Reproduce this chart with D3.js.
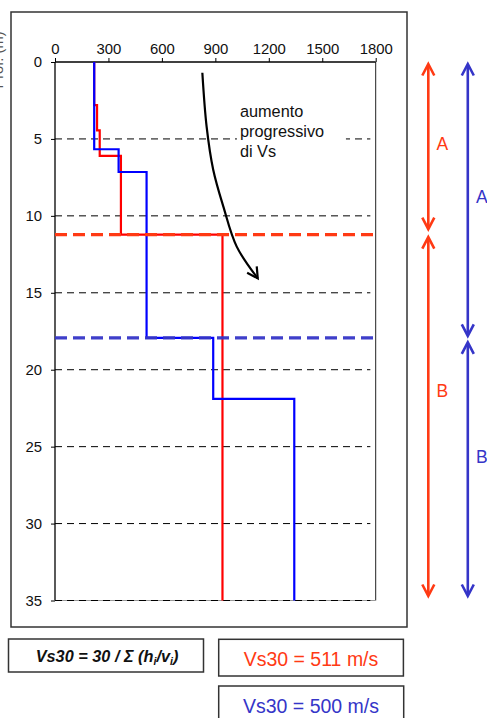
<!DOCTYPE html>
<html>
<head>
<meta charset="utf-8">
<script src="https://cdn.jsdelivr.net/npm/d3@7/dist/d3.min.js"></script>
<style>
  html, body { margin: 0; padding: 0; background: #fff; }
  svg { display: block; font-family: "Liberation Sans", Arial, sans-serif; }
</style>
</head>
<body>
<svg id="chart" width="487" height="718"></svg>
<script>
// Shear-wave velocity profiles (Vs, m/s) against depth (m)
const xTicks = [0, 300, 600, 900, 1200, 1500, 1800];
const yTicks = [0, 5, 10, 15, 20, 25, 30, 35];
const gridDepths = [5, 10, 15, 20, 25, 30, 35];

// Profile 1 (red): layer tops and velocities
const redTops = [0, 2.8, 4.45, 6.1, 11.22];
const redVs   = [220, 236, 251, 370, 940];
// Profile 2 (blue): layer tops and velocities
const blueTops = [0, 5.67, 7.15, 17.93, 21.9];
const blueVs   = [220, 357, 514, 888, 1343];
const profileBottom = 35;

// Interface between zone A and zone B for each profile
const redBoundary = 11.22;
const blueBoundary = 17.93;

// Zone labels: [label, depth]
const redZoneLabels = [["A", 5.3], ["B", 21.4]];
const blueZoneLabels = [["A", 8.8], ["B", 25.7]];

// Annotation arrow path (Vs, depth) and its caption
const trendArrow = [[827, 0.7], [851, 4.2], [888, 7.0], [945, 9.4], [1020, 12.0], [1138, 14.06]];
const trendText = ["aumento", "progressivo", "di Vs"];
const trendTextPos = [1038, 3.57];

const redLabel = "Vs30 = 511 m/s";
const blueLabel = "Vs30 = 500 m/s";

const RED = "#ff0000", BLUE = "#0000ff";
const RED2 = "#ff3a14", BLUE2 = "#3535c8";

const svg = d3.select("#chart");

const x = d3.scaleLinear().domain([0, 1800]).range([55, 375.7]);
const y = d3.scaleLinear().domain([0, 35]).range([62, 600.5]);

// outer frame
svg.append("rect").attr("x", 11).attr("y", 12).attr("width", 396).attr("height", 615)
  .attr("fill", "none").attr("stroke", "#333").attr("stroke-width", 1.5);

// y-axis title, running off the left edge of the page
svg.append("text").attr("transform", "translate(2.5,60) rotate(-90)")
  .attr("text-anchor", "middle").attr("font-size", 14.7).attr("fill", "#555")
  .text("Prof. (m)");

// plot area borders
svg.append("line").attr("x1", x(1800)).attr("x2", x(1800)).attr("y1", y(0)).attr("y2", y(35))
  .attr("stroke", "#222").attr("stroke-width", 1);
svg.append("line").attr("x1", x(0)).attr("x2", x(1800)).attr("y1", y(35)).attr("y2", y(35))
  .attr("stroke", "#999").attr("stroke-width", 1);

// grid
svg.append("g").selectAll("line").data(gridDepths).join("line")
  .attr("x1", x(0)).attr("x2", x(1770)).attr("y1", d => y(d)).attr("y2", d => y(d))
  .attr("stroke", "#000").attr("stroke-width", 1).attr("stroke-dasharray", "7,5");

// axes
const xAxis = d3.axisTop(x).tickValues(xTicks).tickSize(4).tickPadding(4).tickFormat(d3.format("d"));
const gx = svg.append("g").attr("transform", `translate(0,${y(0)})`).call(xAxis);
const yAxis = d3.axisLeft(y).tickValues(yTicks).tickSize(4).tickPadding(9).tickFormat(d3.format("d"));
const gy = svg.append("g").attr("transform", `translate(${x(0)},0)`).call(yAxis);
[gx, gy].forEach(g => {
  g.select(".domain").attr("stroke", "#000").attr("stroke-width", 1.3);
  g.selectAll(".tick line").attr("stroke", "#000");
  g.selectAll("text").attr("font-size", 14.9).attr("fill", "#111")
    .attr("font-family", '"Liberation Sans", Arial, sans-serif');
});
gx.select(".domain").attr("d", `M${x(0)},0H${x(1800)}`);
gy.select(".domain").attr("d", `M0,${y(0)}V${y(35)}`);

// caption box over the grid
const tx = x(trendTextPos[0]), ty = y(trendTextPos[1]);
svg.append("rect").attr("x", tx - 3).attr("y", ty - 17).attr("width", 109).attr("height", 64)
  .attr("fill", "#fff");
svg.append("text").attr("x", tx).attr("y", ty).attr("font-size", 16.3).attr("fill", "#111")
  .selectAll("tspan").data(trendText).join("tspan")
  .attr("x", tx).attr("dy", (d, i) => i === 0 ? 0 : 20).text(d => d);

// step profiles
function stepPoints(tops, vs) {
  const pts = [];
  tops.forEach((t, i) => {
    const bottom = i < tops.length - 1 ? tops[i + 1] : profileBottom;
    pts.push([vs[i], t], [vs[i], bottom]);
  });
  return pts;
}
const line = d3.line().x(d => x(d[0])).y(d => y(d[1]));
svg.append("path").attr("d", line(stepPoints(redTops, redVs)))
  .attr("fill", "none").attr("stroke", RED).attr("stroke-width", 2.2);
svg.append("path").attr("d", line(stepPoints(blueTops, blueVs)))
  .attr("fill", "none").attr("stroke", BLUE).attr("stroke-width", 2.2);

// zone interfaces
svg.append("line").attr("x1", x(0)).attr("x2", x(1800) + 2)
  .attr("y1", y(redBoundary)).attr("y2", y(redBoundary))
  .attr("stroke", RED2).attr("stroke-width", 3.3).attr("stroke-dasharray", "12,6");
svg.append("line").attr("x1", x(0)).attr("x2", x(1800) + 2)
  .attr("y1", y(blueBoundary)).attr("y2", y(blueBoundary))
  .attr("stroke", BLUE2).attr("stroke-width", 3.3).attr("stroke-dasharray", "12,6").attr("opacity", 0.95);

// trend arrow
const curve = d3.line().x(d => x(d[0])).y(d => y(d[1])).curve(d3.curveCatmullRom);
svg.append("path").attr("d", curve(trendArrow))
  .attr("fill", "none").attr("stroke", "#000").attr("stroke-width", 2.2);
{
  const n = trendArrow.length;
  const p1 = [x(trendArrow[n - 2][0]), y(trendArrow[n - 2][1])];
  const p2 = [x(trendArrow[n - 1][0]), y(trendArrow[n - 1][1])];
  const ang = Math.atan2(p2[1] - p1[1], p2[0] - p1[0]);
  const L = 12, spread = 0.5;
  const a = [p2[0] - L * Math.cos(ang - spread), p2[1] - L * Math.sin(ang - spread)];
  const b = [p2[0] - L * Math.cos(ang + spread), p2[1] - L * Math.sin(ang + spread)];
  svg.append("path").attr("d", `M${a}L${p2}L${b}`)
    .attr("fill", "none").attr("stroke", "#000").attr("stroke-width", 2.2)
    .attr("stroke-linejoin", "miter");
}

// zone arrows on the right
function doubleArrow(cx, y1, y2, color) {
  const g = svg.append("g").attr("stroke", color).attr("stroke-width", 2.6).attr("fill", "none");
  g.append("line").attr("x1", cx).attr("x2", cx).attr("y1", y1 + 1).attr("y2", y2 - 1);
  g.append("path").attr("d", `M${cx - 6},${y1 + 11.5}L${cx},${y1}L${cx + 6},${y1 + 11.5}`);
  g.append("path").attr("d", `M${cx - 6},${y2 - 11.5}L${cx},${y2}L${cx + 6},${y2 - 11.5}`);
}
const redX = 428.3, blueX = 467.8, gap = 4;
doubleArrow(redX, y(0) + 2, y(redBoundary) - gap - 1.5, RED2);
doubleArrow(redX, y(redBoundary) + gap - 1.5, y(35) - 4.5, RED2);
doubleArrow(blueX, y(0) + 2, y(blueBoundary) - gap + 2, BLUE2);
doubleArrow(blueX, y(blueBoundary) + gap + 0.5, y(35) - 4.5, BLUE2);

svg.append("g").selectAll("text").data(redZoneLabels).join("text")
  .attr("x", 436.5).attr("y", d => y(d[1]) + 6).attr("font-size", 17.5).attr("fill", RED2)
  .text(d => d[0]);
svg.append("g").selectAll("text").data(blueZoneLabels).join("text")
  .attr("x", 476).attr("y", d => y(d[1]) + 6).attr("font-size", 17.5).attr("fill", BLUE2)
  .text(d => d[0]);

// formula box
svg.append("rect").attr("x", 8.5).attr("y", 639).attr("width", 195).attr("height", 33)
  .attr("fill", "#fff").attr("stroke", "#333").attr("stroke-width", 1.5);
const f = svg.append("text").attr("x", 107).attr("y", 662).attr("text-anchor", "middle")
  .attr("font-size", 16.3).attr("font-weight", "bold").attr("font-style", "italic").attr("fill", "#111");
f.append("tspan").text("Vs30 = 30 / Σ (h");
f.append("tspan").attr("font-size", 10.5).attr("dy", 3).text("i");
f.append("tspan").attr("dy", -3).text("/v");
f.append("tspan").attr("font-size", 10.5).attr("dy", 3).text("i");
f.append("tspan").attr("dy", -3).text(")");

// Vs30 result boxes
svg.append("rect").attr("x", 218.7).attr("y", 639.3).attr("width", 184.7).attr("height", 36.7)
  .attr("fill", "#fff").attr("stroke", "#333").attr("stroke-width", 1.5);
svg.append("text").attr("x", 311).attr("y", 666).attr("text-anchor", "middle")
  .attr("font-size", 19.5).attr("fill", RED2).text(redLabel);
svg.append("rect").attr("x", 218.7).attr("y", 686).attr("width", 185).attr("height", 40)
  .attr("fill", "#fff").attr("stroke", "#333").attr("stroke-width", 1.5);
svg.append("text").attr("x", 311).attr("y", 712.7).attr("text-anchor", "middle")
  .attr("font-size", 19.5).attr("fill", BLUE2).text(blueLabel);
</script>
</body>
</html>
